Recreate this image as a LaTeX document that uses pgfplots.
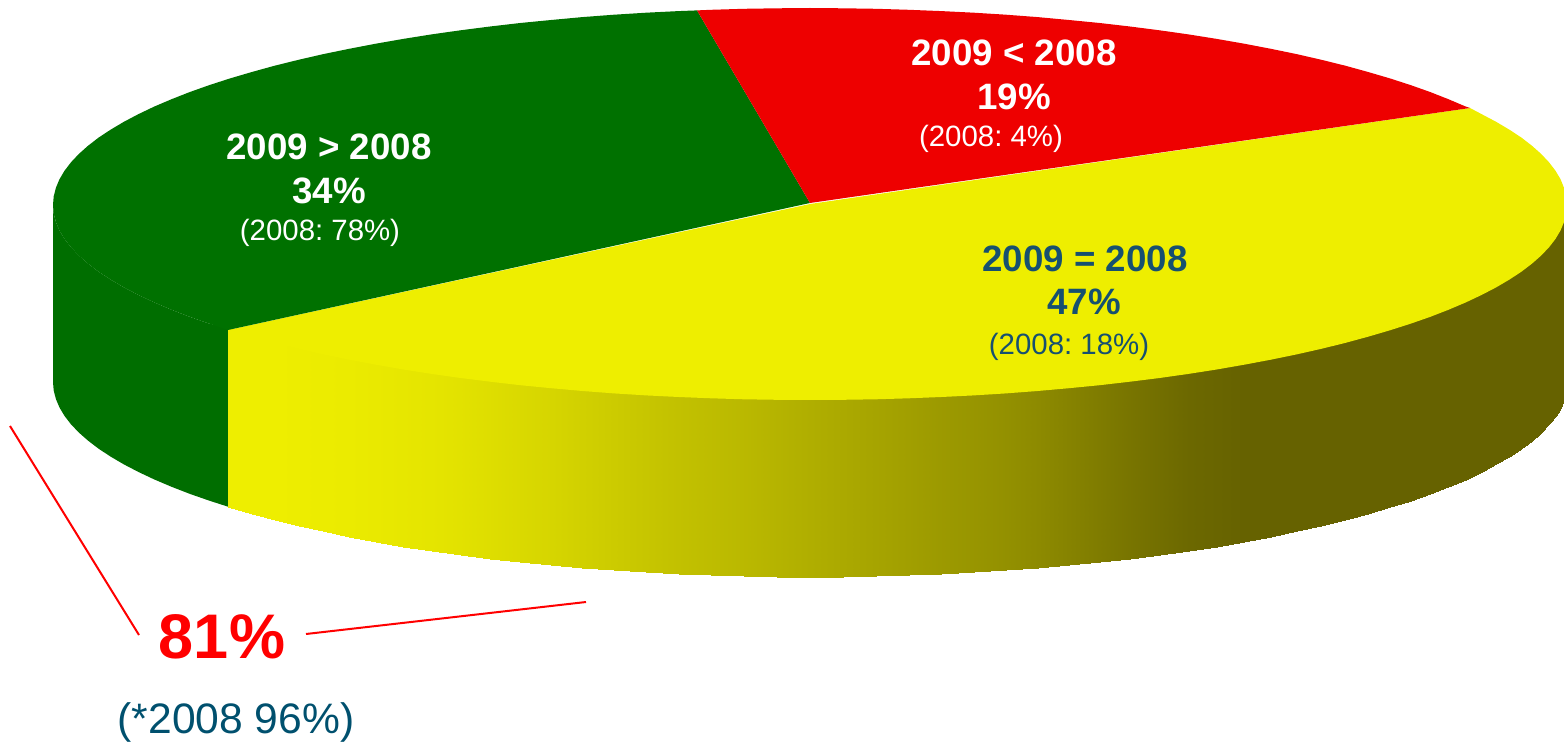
\documentclass[border=0pt]{standalone}
\usepackage{pgfplots}
\pgfplotsset{compat=1.18}
\usepackage{fontspec}
\setmainfont{Liberation Sans}
\frenchspacing
\definecolor{pgreen}{RGB}{0,113,0}
\definecolor{sgreen}{RGB}{0,110,0}
\definecolor{pred}{RGB}{238,0,0}
\definecolor{pyellow}{RGB}{238,238,0}
\definecolor{lblue}{RGB}{22,80,112}
\definecolor{nblue}{RGB}{0,80,110}
\begin{document}
\begin{tikzpicture}
\begin{axis}[
  scale only axis, width=1564pt, height=743pt,
  xmin=0, xmax=1564, ymin=0, ymax=743, y dir=reverse,
  hide axis,
  colormap={side}{rgb255(0)=(102,98,0) rgb255(1)=(238,238,0)},
  point meta min=102, point meta max=238,
  clip=true,
]
% front side of the green slice
\addplot[fill=sgreen, draw=none] coordinates {
(229,328) (209.4,323.7) (189.9,316.9) (171.6,309.8) (154.4,302.5) (138.5,295) (123.9,287.4) (110.6,279.6) (98.6,271.7) (88,263.6) (78.8,255.5) (70.9,247.2) (64.5,238.9) (59.5,230.5) (55.9,222) (53.7,213.5) (53,205)
(53,382) (53.7,390.5) (55.9,399) (59.5,407.5) (64.5,415.9) (70.9,424.2) (78.8,432.5) (88,440.6) (98.6,448.7) (110.6,456.6) (123.9,464.4) (138.5,472) (154.4,479.5) (171.6,486.8) (189.9,493.9) (209.4,500.7) (229,507)
} -- cycle;
% front side of the yellow slice
\addplot[surf, shader=interp, mesh/cols=2, point meta=explicit] table[x=x, y=y, meta=c] {
x y c
228 328 238
228 507 238
251.9 334.7 238
251.9 513.7 238
274.7 340.9 238
274.7 519.9 238
298.6 346.8 237
298.6 525.8 237
323.4 352.4 236
323.4 531.4 236
349.2 357.7 235
349.2 536.7 235
375.8 362.7 233
375.8 541.7 233
403.3 367.5 231
403.3 546.5 231
431.5 371.9 229
431.5 550.9 229
460.5 376 226
460.5 555 226
490.1 379.7 222
490.1 558.7 222
520.3 383.2 218
520.3 562.2 218
551.1 386.2 214
551.1 565.2 214
582.4 389 209
582.4 568 209
614.1 391.4 204
614.1 570.4 204
646.2 393.4 199
646.2 572.4 199
678.6 395 194
678.6 574 194
711.2 396.3 190
711.2 575.3 190
744 397.3 186
744 576.3 186
777 397.8 181
777 576.8 181
810 398 176
810 577 176
843 397.8 171
843 576.8 171
876 397.3 166
876 576.3 166
908.8 396.3 161
908.8 575.3 161
941.4 395 156
941.4 574 156
973.8 393.4 152
973.8 572.4 152
1005.9 391.4 147
1005.9 570.4 147
1037.6 389 141
1037.6 568 141
1068.9 386.2 134
1068.9 565.2 134
1099.7 383.2 127
1099.7 562.2 127
1129.9 379.7 120
1129.9 558.7 120
1159.5 376 114
1159.5 555 114
1188.5 371.9 108
1188.5 550.9 108
1216.7 367.5 105
1216.7 546.5 105
1244.2 362.7 102
1244.2 541.7 102
1270.8 357.7 102
1270.8 536.7 102
1296.6 352.4 102
1296.6 531.4 102
1321.4 346.8 102
1321.4 525.8 102
1345.3 340.9 102
1345.3 519.9 102
1368.1 334.7 102
1368.1 513.7 102
1389.9 328.3 102
1389.9 507.3 102
1410.6 321.7 102
1410.6 500.7 102
1430.1 314.9 102
1430.1 493.9 102
1448.4 307.8 102
1448.4 486.8 102
1465.6 300.5 102
1465.6 479.5 102
1481.5 293 102
1481.5 472 102
1496.1 285.4 102
1496.1 464.4 102
1509.4 277.6 102
1509.4 456.6 102
1521.4 269.7 102
1521.4 448.7 102
1532 261.6 102
1532 440.6 102
1541.2 253.5 102
1541.2 432.5 102
1549.1 245.2 102
1549.1 424.2 102
1555.5 236.9 102
1555.5 415.9 102
1560.5 228.5 102
1560.5 407.5 102
1564 220 102
1564 399 102
};
% top: yellow slice
\addplot[fill=pyellow, draw=none] coordinates {
(810,204) (1470,108) (1481.5,114.1) (1496.1,121.8) (1509.4,129.7) (1521.4,137.6) (1532,145.8) (1541.2,154) (1549.1,162.4) (1555.5,170.8) (1560.5,179.2) (1564,187.8) (1566.3,196.4) (1567,205)
(1566.3,213.5) (1564,222) (1560.5,230.5) (1555.5,238.9) (1549.1,247.2) (1541.2,255.5) (1532,263.6) (1521.4,271.7) (1509.4,279.6) (1496.1,287.4) (1481.5,295) (1465.6,302.5) (1448.4,309.8) (1430.1,316.9) (1410.6,323.7)
(1389.9,330.3) (1368.1,336.7) (1345.3,342.9) (1321.4,348.8) (1296.6,354.4) (1270.8,359.7) (1244.2,364.7) (1216.7,369.5) (1188.5,373.9) (1159.5,378) (1129.9,381.7) (1099.7,385.2) (1068.9,388.2) (1037.6,391)
(1005.9,393.4) (973.8,395.4) (941.4,397) (908.8,398.3) (876,399.3) (843,399.8) (810,400) (777,399.8) (744,399.3) (711.2,398.3) (678.6,397) (646.2,395.4) (614.1,393.4) (582.4,391) (551.1,388.2) (520.3,385.2)
(490.1,381.7) (460.5,378) (431.5,373.9) (403.3,369.5) (375.8,364.7) (349.2,359.7) (323.4,354.4) (298.6,348.8) (274.7,342.9) (251.9,336.7) (228,330)
} -- cycle;
% top: green slice
\addplot[fill=pgreen, draw=none] coordinates {
(810,203) (228,330) (209.4,323.7) (189.9,316.9) (171.6,309.8) (154.4,302.5) (138.5,295) (123.9,287.4) (110.6,279.6) (98.6,271.7) (88,263.6) (78.8,255.5) (70.9,247.2) (64.5,238.9) (59.5,230.5) (55.9,222) (53.7,213.5) (53,205)
(53.7,196.4) (55.9,187.8) (59.5,179.2) (64.5,170.8) (70.9,162.4) (78.8,154) (88,145.8) (98.6,137.6) (110.6,129.7) (123.9,121.8) (138.5,114.1) (154.4,106.5) (171.6,99.2) (189.9,92) (209.4,85.1) (230.1,78.4) (251.9,72) (274.7,65.7)
(298.6,59.8) (323.4,54.1) (349.2,48.8) (375.8,43.7) (403.3,38.9) (431.5,34.4) (460.5,30.3) (490.1,26.5) (520.3,23) (551.1,20) (582.4,17.1) (614.1,14.7) (646.2,12.7) (678.6,11.1) (697,10.4)
} -- cycle;
% top: red slice
\addplot[fill=pred, draw=none] coordinates {
(810,203) (697,10.4) (711.2,9.8) (744,8.8) (777,8.3) (810,8) (843,8.3) (876,8.8) (908.8,9.8) (941.4,11.1) (973.8,12.7) (1005.9,14.7) (1037.6,17.1) (1068.9,20) (1099.7,23) (1129.9,26.5) (1159.5,30.3) (1188.5,34.4)
(1216.7,38.9) (1244.2,43.7) (1270.8,48.8) (1296.6,54.1) (1321.4,59.8) (1345.3,65.7) (1368.1,72) (1389.9,78.4) (1410.6,85.1) (1430.1,92) (1448.4,99.2) (1465.6,106.5) (1470,108)
} -- cycle;
% bracket lines
\addplot[red, line width=2pt] coordinates {(10,426) (139,635)};
\addplot[red, line width=2pt] coordinates {(306,634) (586,602)};
% labels
\node[anchor=base, inner sep=0pt, text=white, font=\fontsize{36.7}{40}\selectfont\bfseries] at (axis cs:1014,66) {2009 < 2008};
\node[anchor=base, inner sep=0pt, text=white, font=\fontsize{36.7}{40}\selectfont\bfseries] at (axis cs:1014,110) {19\%};
\node[anchor=base, inner sep=0pt, text=white, font=\fontsize{29.4}{32}\selectfont] at (axis cs:991,147) {(2008: 4\%)};
\node[anchor=base, inner sep=0pt, text=white, font=\fontsize{36.7}{40}\selectfont\bfseries] at (axis cs:329,160) {2009 > 2008};
\node[anchor=base, inner sep=0pt, text=white, font=\fontsize{36.7}{40}\selectfont\bfseries] at (axis cs:329,204) {34\%};
\node[anchor=base, inner sep=0pt, text=white, font=\fontsize{29.4}{32}\selectfont] at (axis cs:320,241) {(2008: 78\%)};
\node[anchor=base, inner sep=0pt, text=lblue, font=\fontsize{36.7}{40}\selectfont\bfseries] at (axis cs:1085,272) {2009 = 2008};
\node[anchor=base, inner sep=0pt, text=lblue, font=\fontsize{36.7}{40}\selectfont\bfseries] at (axis cs:1084,315) {47\%};
\node[anchor=base, inner sep=0pt, text=lblue, font=\fontsize{29.4}{32}\selectfont] at (axis cs:1069,355) {(2008: 18\%)};
\node[anchor=base, inner sep=0pt, text=red, font=\fontsize{63}{68}\selectfont\bfseries] at (axis cs:222,658) {81\%};
\node[anchor=base, inner sep=0pt, text=nblue, font=\fontsize{42.6}{46}\selectfont] at (axis cs:236,733) {(*2008 96\%)};
\end{axis}
\pgfresetboundingbox
\useasboundingbox (0,0) rectangle (1564pt,743pt);
\end{tikzpicture}
\end{document}
